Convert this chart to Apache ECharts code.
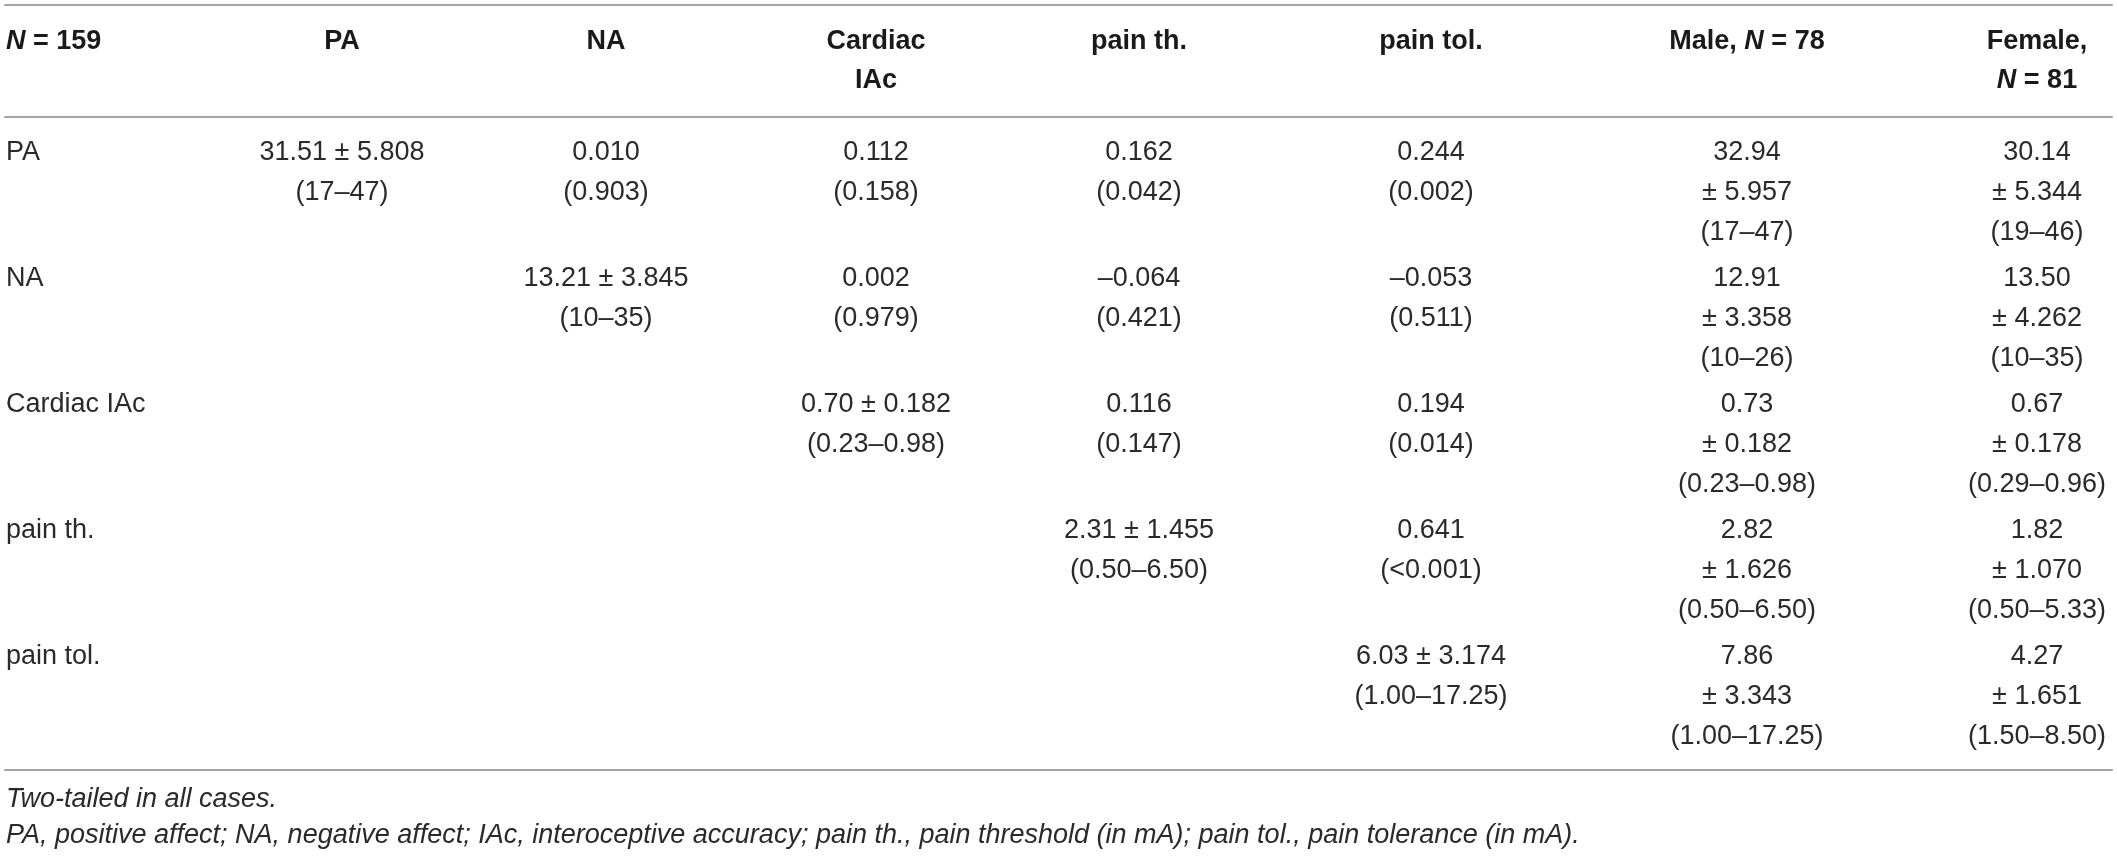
<!DOCTYPE html>
<html>
<head>
<meta charset="utf-8">
<script src="https://cdn.jsdelivr.net/npm/echarts@6/dist/echarts.min.js"></script>
<style>
html, body { margin: 0; padding: 0; background: #fff; }
#main { width: 2117px; height: 857px; }
</style>
</head>
<body>
<div id="main"></div>
<script>
// ---- table data ----
var variables = ['PA', 'NA', 'Cardiac IAc', 'pain th.', 'pain tol.'];
var columnTitles = ['{i|N} = 159', 'PA', 'NA', 'Cardiac\nIAc', 'pain th.', 'pain tol.', 'Male, {i|N} = 78', 'Female,\n{i|N} = 81'];

// whole sample (diagonal): mean, sd, range
var allMean = [31.51, 13.21, 0.70, 2.31, 6.03];
var allSd = [5.808, 3.845, 0.182, 1.455, 3.174];
var allRange = ['17–47', '10–35', '0.23–0.98', '0.50–6.50', '1.00–17.25'];

var maleMean = [32.94, 12.91, 0.73, 2.82, 7.86];
var maleSd = [5.957, 3.358, 0.182, 1.626, 3.343];
var maleRange = ['17–47', '10–26', '0.23–0.98', '0.50–6.50', '1.00–17.25'];

var femaleMean = [30.14, 13.50, 0.67, 1.82, 4.27];
var femaleSd = [5.344, 4.262, 0.178, 1.070, 1.651];
var femaleRange = ['19–46', '10–35', '0.29–0.96', '0.50–5.33', '1.50–8.50'];

// correlations, upper triangle (row, col of variables)
var corrPairs = [[0, 1], [0, 2], [0, 3], [0, 4], [1, 2], [1, 3], [1, 4], [2, 3], [2, 4], [3, 4]];
var corrR = [0.010, 0.112, 0.162, 0.244, 0.002, -0.064, -0.053, 0.116, 0.194, 0.641];
var corrP = [0.903, 0.158, 0.042, 0.002, 0.979, 0.421, 0.511, 0.147, 0.014, '<0.001'];

var footnotes = [
    'Two-tailed in all cases.',
    'PA, positive affect; NA, negative affect; IAc, interoceptive accuracy; pain th., pain threshold (in mA); pain tol., pain tolerance (in mA).'
];

// ---- layout ----
var LAYOUT = {
    left: 5,
    width: 2107,
    headTop: 5,
    headH: 112,
    bodyH: 630,
    bottomGap: 23,
    colX: [1, 337, 601, 871, 1134, 1426, 1742, 2032]
};
var FONT = 'Liberation Sans, Arial, Helvetica, sans-serif';
var TEXT = '#2a2a2a';
var RULE = '#a3a3a3';

function fmtR(v) {
    return (v < 0 ? '–' : '') + Math.abs(v).toFixed(3);
}
function fmtP(v) {
    return typeof v === 'number' ? v.toFixed(3) : v;
}

// header cells
var headData = [], headText = [];
columnTitles.forEach(function (t, c) {
    headData.push([c, 0]);
    headText.push(t);
});

// body cells
var bodyData = [], bodyText = [];
function addCell(c, r, t) {
    bodyData.push([c, r]);
    bodyText.push(t);
}
variables.forEach(function (name, r) {
    addCell(0, r, name);
    addCell(r + 1, r, allMean[r].toFixed(2) + ' ± ' + allSd[r].toFixed(3) + '\n(' + allRange[r] + ')');
    addCell(6, r, maleMean[r].toFixed(2) + '\n± ' + maleSd[r].toFixed(3) + '\n(' + maleRange[r] + ')');
    addCell(7, r, femaleMean[r].toFixed(2) + '\n± ' + femaleSd[r].toFixed(3) + '\n(' + femaleRange[r] + ')');
});
corrPairs.forEach(function (p, k) {
    addCell(p[1] + 1, p[0], fmtR(corrR[k]) + '\n(' + fmtP(corrP[k]) + ')');
});

function makeRender(texts, lineH, padTop, bold) {
    return function (params, api) {
        var c = api.value(0), r = api.value(1);
        var pt = api.coord([LAYOUT.colX[c], r]);
        var band = api.size([0, 1])[1];
        return {
            type: 'text',
            x: pt[0],
            y: pt[1] - band / 2 + padTop,
            style: {
                text: texts[params.dataIndex],
                align: c === 0 ? 'left' : 'center',
                verticalAlign: 'top',
                fill: bold ? '#1a1a1a' : TEXT,
                fontFamily: FONT,
                fontSize: 27,
                fontWeight: bold ? 'bold' : 'normal',
                lineHeight: lineH,
                rich: {
                    i: {
                        fontStyle: 'italic',
                        fontWeight: bold ? 'bold' : 'normal',
                        fontFamily: FONT,
                        fontSize: 27,
                        fill: bold ? '#1a1a1a' : TEXT,
                        lineHeight: lineH
                    }
                }
            }
        };
    };
}

function ruleAxis(grid, pos, offset) {
    return {
        type: 'value', gridIndex: grid, position: pos, offset: offset || 0,
        min: 0, max: LAYOUT.width,
        axisLine: { show: true, onZero: false, lineStyle: { color: RULE, width: 2 } },
        axisTick: { show: false }, axisLabel: { show: false }, splitLine: { show: false }
    };
}

var myChart = echarts.init(document.getElementById('main'));
var option = {
    backgroundColor: '#fff',
    animation: false,
    grid: [
        { left: LAYOUT.left, width: LAYOUT.width, top: LAYOUT.headTop, height: LAYOUT.headH },
        { left: LAYOUT.left, width: LAYOUT.width, top: LAYOUT.headTop + LAYOUT.headH, height: LAYOUT.bodyH }
    ],
    xAxis: [
        ruleAxis(0, 'top'),
        ruleAxis(1, 'top'),
        ruleAxis(1, 'bottom', LAYOUT.bottomGap)
    ],
    yAxis: [
        { type: 'category', gridIndex: 0, data: ['header'], show: false },
        { type: 'category', gridIndex: 1, data: variables, inverse: true, show: false }
    ],
    series: [
        {
            type: 'custom', xAxisIndex: 0, yAxisIndex: 0, silent: true,
            data: headData, renderItem: makeRender(headText, 39, 17, true)
        },
        {
            type: 'custom', xAxisIndex: 1, yAxisIndex: 1, silent: true,
            data: bodyData, renderItem: makeRender(bodyText, 40, 16, false)
        }
    ],
    graphic: [{
        type: 'text', left: LAYOUT.left + 1, top: 781,
        style: {
            text: footnotes.join('\n'),
            fill: TEXT, fontFamily: FONT, fontSize: 27, fontStyle: 'italic', lineHeight: 36
        }
    }]
};
myChart.setOption(option);
</script>
</body>
</html>
